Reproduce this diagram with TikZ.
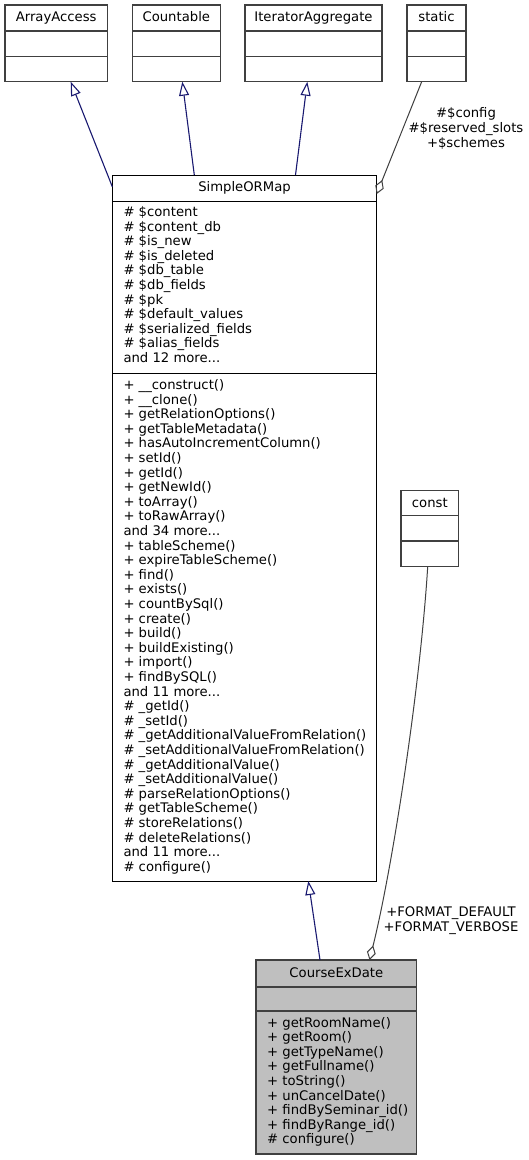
\documentclass[tikz,border=0pt]{standalone}
\usepackage{fontspec}
\setmainfont{DejaVu Sans}
\usetikzlibrary{arrows.meta,calc}
\definecolor{edgeblue}{HTML}{191970}
\definecolor{boxgray}{HTML}{404040}
\definecolor{fillgray}{HTML}{BFBFBF}
\definecolor{agggray}{HTML}{404040}
\newcommand{\mlist}[1]{\parbox[t]{260pt}{\fontsize{13.2}{14.6}\selectfont\raggedright #1}}
\newcommand{\lablist}[1]{\parbox[t]{160pt}{\fontsize{13.2}{15}\selectfont\centering #1}}
\begin{document}
\begin{tikzpicture}[x=1pt,y=-1pt,
  classbox/.style={draw=boxgray, line width=1.2pt, rectangle, inner sep=0pt, outer sep=0pt, anchor=north west},
  sect/.style={draw=boxgray, line width=1.2pt},
  titletext/.style={anchor=base, inner sep=0pt, font=\fontsize{13.2}{14.6}\selectfont},
  members/.style={anchor=base west, inner sep=0pt},
  inh/.style={draw=edgeblue, line width=1.1pt, -{Triangle[open, length=14pt, width=10pt, line width=1.1pt]}},
  agg/.style={draw=agggray, line width=1pt, -{Diamond[open, length=15pt, width=9pt, line width=1pt]}},
  edgelabel/.style={anchor=base, inner sep=0pt}
]
\useasboundingbox (0,0) rectangle (529,1160);

% ---- top row ----
\node[classbox, minimum width=102.3pt, minimum height=76.7pt] (aa) at (5,5) {};
\draw[sect] ($(aa.north west)+(0,26)$) -- ($(aa.north east)+(0,26)$);
\draw[sect] ($(aa.north west)+(0,51.7)$) -- ($(aa.north east)+(0,51.7)$);
\node[titletext] (aat) at ($(aa.north)+(0,16.7)$) {ArrayAccess};

\node[classbox, minimum width=88pt, minimum height=76.7pt] (cnt) at (132.3,5) {};
\draw[sect] ($(cnt.north west)+(0,26)$) -- ($(cnt.north east)+(0,26)$);
\draw[sect] ($(cnt.north west)+(0,51.7)$) -- ($(cnt.north east)+(0,51.7)$);
\node[titletext] (cntt) at ($(cnt.north)+(0,16.7)$) {Countable};

\node[classbox, minimum width=137pt, minimum height=76.7pt] (ia) at (245,5) {};
\draw[sect] ($(ia.north west)+(0,26)$) -- ($(ia.north east)+(0,26)$);
\draw[sect] ($(ia.north west)+(0,51.7)$) -- ($(ia.north east)+(0,51.7)$);
\node[titletext] (iat) at ($(ia.north)+(0,16.7)$) {IteratorAggregate};

\node[classbox, minimum width=59pt, minimum height=76.7pt] (st) at (407,5) {};
\draw[sect] ($(st.north west)+(0,26)$) -- ($(st.north east)+(0,26)$);
\draw[sect] ($(st.north west)+(0,51.7)$) -- ($(st.north east)+(0,51.7)$);
\node[titletext] (stt) at ($(st.north)+(0,16.7)$) {static};

% ---- SimpleORMap ----
\node[classbox, draw=black, line width=1pt, minimum width=264.4pt, minimum height=706pt] (som) at (112.3,175) {};
\draw[black, line width=1pt] ($(som.north west)+(0,26)$) -- ($(som.north east)+(0,26)$);
\draw[black, line width=1pt] ($(som.north west)+(0,198)$) -- ($(som.north east)+(0,198)$);
\node[titletext] (somt) at ($(som.north)+(0,16.7)$) {SimpleORMap};
\node[members] (soma) at ($(som.north west)+(11,41.5)$) {\mlist{%
\# \$content\\
\# \$content\_db\\
\# \$is\_new\\
\# \$is\_deleted\\
\# \$db\_table\\
\# \$db\_fields\\
\# \$pk\\
\# \$default\_values\\
\# \$serialized\_fields\\
\# \$alias\_fields\\
and 12 more...}};
\node[members] (somm) at ($(som.north west)+(11,214.5)$) {\mlist{%
+ \_\_construct()\\
+ \_\_clone()\\
+ getRelationOptions()\\
+ getTableMetadata()\\
+ hasAutoIncrementColumn()\\
+ setId()\\
+ getId()\\
+ getNewId()\\
+ toArray()\\
+ toRawArray()\\
and 34 more...\\
+ tableScheme()\\
+ expireTableScheme()\\
+ find()\\
+ exists()\\
+ countBySql()\\
+ create()\\
+ build()\\
+ buildExisting()\\
+ import()\\
+ findBySQL()\\
and 11 more...\\
\# \_getId()\\
\# \_setId()\\
\# \_getAdditionalValueFromRelation()\\
\# \_setAdditionalValueFromRelation()\\
\# \_getAdditionalValue()\\
\# \_setAdditionalValue()\\
\# parseRelationOptions()\\
\# getTableScheme()\\
\# storeRelations()\\
\# deleteRelations()\\
and 11 more...\\
\# configure()}};

% ---- const ----
\node[classbox, minimum width=57.7pt, minimum height=76pt] (cst) at (401,490.7) {};
\draw[sect] ($(cst.north west)+(0,25)$) -- ($(cst.north east)+(0,25)$);
\draw[sect] ($(cst.north west)+(0,50.3)$) -- ($(cst.north east)+(0,50.3)$);
\node[titletext] (cstt) at ($(cst.north)+(0,16.7)$) {const};

% ---- CourseExDate ----
\node[classbox, fill=fillgray, minimum width=160.7pt, minimum height=194pt] (ced) at (256,960) {};
\draw[sect] ($(ced.north west)+(0,27)$) -- ($(ced.north east)+(0,27)$);
\draw[sect] ($(ced.north west)+(0,51)$) -- ($(ced.north east)+(0,51)$);
\node[titletext] (cedt) at ($(ced.north)+(0,17.3)$) {CourseExDate};
\node[members] (cedm) at ($(ced.north west)+(11,67)$) {\mlist{%
+ getRoomName()\\
+ getRoom()\\
+ getTypeName()\\
+ getFullname()\\
+ toString()\\
+ unCancelDate()\\
+ findBySeminar\_id()\\
+ findByRange\_id()\\
\# configure()}};

% ---- connectors ----
\draw[inh] ($(som.north west)+(0,11.7)$) -- ($(aa.south west)+(65.7,0)$);
\draw[inh] ($(som.north west)+(82,0)$) -- ($(cnt.south west)+(50,0)$);
\draw[inh] ($(som.north west)+(183.2,0)$) -- ($(ia.south west)+(62.3,0)$);
\draw[agg] ($(st.south west)+(14.7,0)$) -- ($(som.north east)+(0,19)$);
\draw[inh] ($(ced.north west)+(64,0)$) -- ($(som.south west)+(196,0)$);
\draw[agg] ($(cst.south west)+(26.7,0)$) .. controls (420,690) and (392,870) .. ($(ced.north west)+(113.5,0)$);

% ---- labels ----
\node[edgelabel] (lstatic) at (466,117.5) {\lablist{\#\$config\\\#\$reserved\_slots\\+\$schemes}};
\node[edgelabel] (lconst) at (451,916.7) {\lablist{+FORMAT\_DEFAULT\\+FORMAT\_VERBOSE}};
\end{tikzpicture}
\end{document}
